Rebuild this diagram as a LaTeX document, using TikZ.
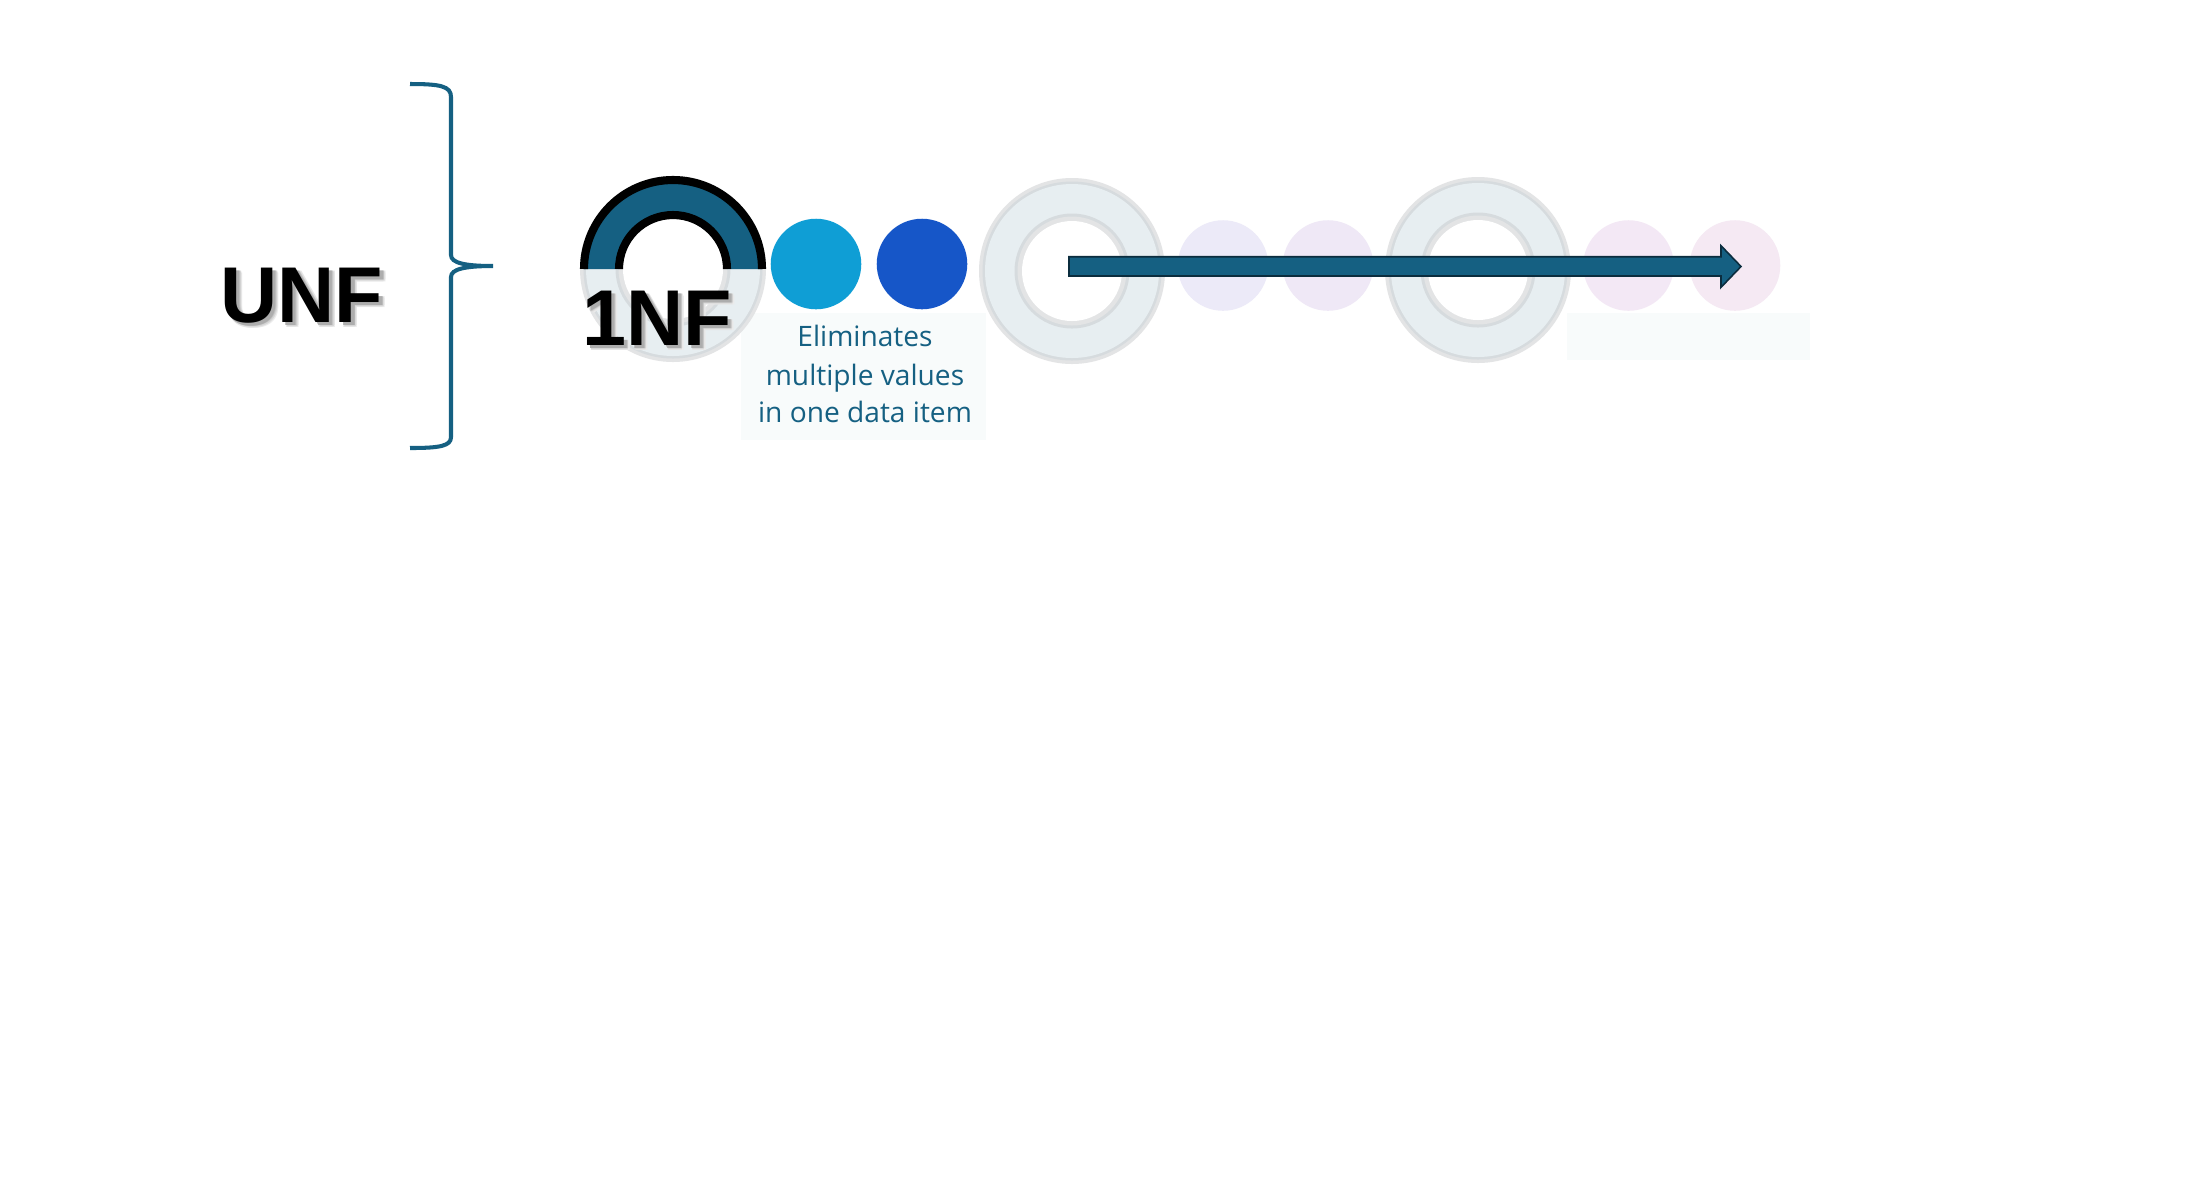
\documentclass[tikz,border=0pt]{standalone}
\usepackage{fontspec}
\setmainfont{Liberation Sans}
\newfontfamily\descfont{Open Sans}
\definecolor{teal1}{HTML}{156082}
\definecolor{cyan1}{HTML}{0F9ED5}
\definecolor{blue1}{HTML}{1656C8}
\definecolor{ringfill}{HTML}{E7EEF1}
\definecolor{ringdark}{HTML}{D6DBDE}
\definecolor{ringlight}{HTML}{E3E4E5}
\definecolor{arrowline}{HTML}{0B2D3E}
\definecolor{paleA}{HTML}{ECEAF8}
\definecolor{paleB}{HTML}{EFE8F6}
\definecolor{paleC}{HTML}{F3E8F5}
\definecolor{paleD}{HTML}{F5E9F3}
\definecolor{faintbg}{HTML}{F8FBFB}
\newcommand\shcopy[4]{\rlap{\kern#1\raisebox{#2}{\color{black!#3}#4}}}
\newcommand\shadowed[1]{%
  \shcopy{1.7pt}{-1.7pt}{8}{#1}%
  \shcopy{1.5pt}{-1.1pt}{10}{#1}%
  \shcopy{1.1pt}{-1.5pt}{10}{#1}%
  \shcopy{1.3pt}{-1.3pt}{16}{#1}%
  \shcopy{1.1pt}{-1.1pt}{24}{#1}%
  \shcopy{0.9pt}{-0.9pt}{32}{#1}%
  #1}
\tikzset{
  dot/.style={circle, inner sep=0pt, minimum size=0.905cm},
  bigtext/.style={font=\fontsize{22.5}{27}\selectfont\bfseries, anchor=base, inner sep=0pt},
  desc/.style={font=\descfont\fontsize{8}{10.8}\selectfont, text=teal1, anchor=base, inner sep=0pt},
  ringpic/.pic={
    \fill[ringlight] (0,0) circle[radius=93];
    \fill[ringdark] (0,0) circle[radius=89.5];
    \fill[ringfill] (0,0) circle[radius=87];
    \fill[ringdark] (0,0) circle[radius=57.5];
    \fill[ringlight] (0,0) circle[radius=54.5];
    \fill[white] (0,0) circle[radius=50];
  }
}
\begin{document}
\begin{tikzpicture}[x=0.01cm,y=-0.01cm]
\useasboundingbox[fill=white] (0,0) rectangle (2212,1190);

% faint background panels
\fill[faintbg] (741,313) rectangle (986,440);
\fill[faintbg] (1567,313) rectangle (1810,360);

% brace
\draw[teal1, line width=1.15pt]
  (410,84) .. controls (440,84) and (451,86) .. (451,97)
  -- (451,255) .. controls (451,263) and (465,266) .. (493,266)
  .. controls (465,266) and (451,269) .. (451,277)
  -- (451,437) .. controls (451,446) and (440,448) .. (410,448);

% UNF
\node[bigtext] (unf) at (302,322) {\shadowed{UNF}};

% 1NF element
\coordinate (c0) at (673,269);
\pic at (c0) {ringpic};
\fill[teal1] (762,269) arc[start angle=0,end angle=-180,radius=89]
  -- (619,269) arc[start angle=180,end angle=360,radius=54] -- cycle;
\draw[line width=2.3pt] (762,269) arc[start angle=0,end angle=-180,radius=89];
\draw[line width=2.3pt] (727,269) arc[start angle=0,end angle=-180,radius=54];
\node[bigtext] (onenf) at (657,345) {\shadowed{1NF}};

% solid dots
\node[dot, fill=cyan1] (d1) at (816,264) {};
\node[dot, fill=blue1] (d2) at (922,264) {};

% description
\node[desc] (t1) at (865,346.7) {Eliminates};
\node[desc] (t2) at (865,385.3) {multiple values};
\node[desc] (t3) at (865,422.7) {in one data item};

% grey rings
\coordinate (r1) at (1072,271);
\coordinate (r2) at (1478,270);
\pic at (r1) {ringpic};
\pic at (r2) {ringpic};

% pale dots
\node[dot, fill=paleA] (p1) at (1223,265.5) {};
\node[dot, fill=paleB] (p2) at (1328,265.5) {};
\node[dot, fill=paleC] (p3) at (1628.5,265.5) {};
\node[dot, fill=paleD] (p4) at (1735,265.5) {};

% block arrow
\filldraw[fill=teal1, draw=arrowline, line width=0.45pt, line join=miter]
  (1069,256.7) -- (1721,256.7) -- (1721,245.7) -- (1741,266.5)
  -- (1721,287.3) -- (1721,276) -- (1069,276) -- cycle;
\end{tikzpicture}
\end{document}
